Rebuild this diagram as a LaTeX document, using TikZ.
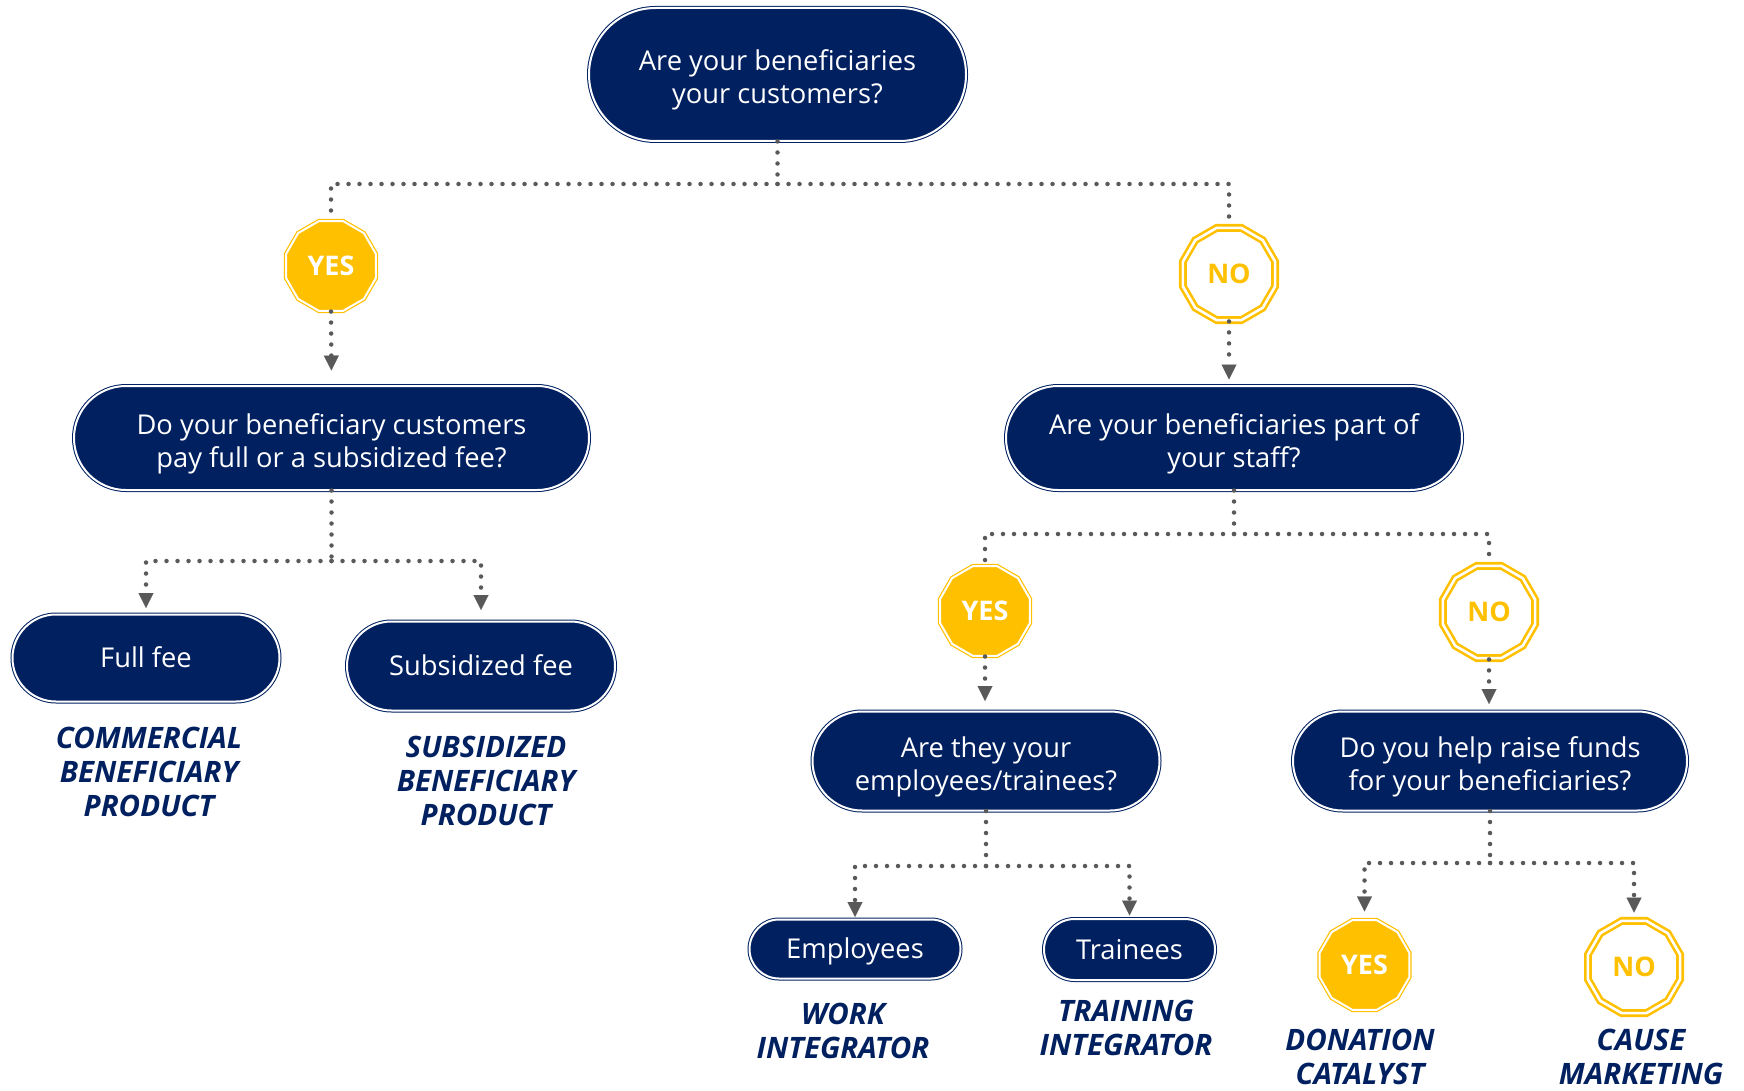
\documentclass[tikz,border=0pt]{standalone}
\usepackage{fontspec}
\setmainfont{Open Sans}
\usetikzlibrary{shapes.misc,shapes.geometric,arrows.meta}
\definecolor{navy}{HTML}{002060}
\definecolor{gold}{HTML}{FFC000}
\definecolor{dotgray}{HTML}{595959}
\tikzset{
  question/.style={rounded rectangle, fill=navy, draw=navy, line width=1pt,
    double=white, double distance=2pt, text=white, align=center, inner sep=0pt,
    text height=19.5pt, text depth=0pt,
    font=\fontsize{27.3}{33}\selectfont},
  twolines/.style={text height=59pt},
  badge/.style={regular polygon, regular polygon sides=12, inner sep=0pt,
    text height=19.3pt, text depth=0pt,
    font=\fontsize{27}{27}\selectfont\bfseries},
  yesbadge/.style={badge, minimum size=93pt, fill=gold, draw=gold,
    line width=1.2pt, double=white, double distance=2pt, text=white},
  nobadge/.style={badge, minimum size=95.5pt, fill=white, draw=gold,
    line width=2.6pt, double=white, double distance=2.6pt, text=gold},
  outcome/.style={text=navy, align=center, inner sep=0pt,
    font=\fontsize{29.5}{34}\selectfont\bfseries\itshape},
  conn/.style={draw=dotgray, line width=4.5pt, line cap=round,
    dash pattern=on 0pt off 11pt},
  arrowed/.style={conn, -{Triangle[width=15pt,length=15pt,line width=0.1pt]}},
}
\begin{document}
\begin{tikzpicture}[x=1pt,y=-1pt]
\useasboundingbox (0,0) rectangle (1744,1091);

% question boxes
\node[question, twolines, minimum width=377pt, minimum height=133pt] (top) at (777.5,74.5)
  {Are your beneficiaries\\your customers?};
\node[question, twolines, minimum width=515pt, minimum height=104pt] (fee) at (331.5,438)
  {Do your beneficiary customers\\pay full or a subsidized fee?};
\node[question, twolines, minimum width=456pt, minimum height=104pt] (staff) at (1234,438)
  {Are your beneficiaries part of\\your staff?};
\node[question, minimum width=267pt, minimum height=87pt] (full) at (146,658) {Full fee};
\node[question, minimum width=268pt, minimum height=89pt] (subs) at (481,666) {Subsidized fee};
\node[question, twolines, minimum width=347pt, minimum height=99pt] (emptr) at (986,761)
  {Are they your\\employees/trainees?};
\node[question, twolines, minimum width=394pt, minimum height=99pt] (funds) at (1490,761)
  {Do you help raise funds\\for your beneficiaries?};
\node[question, minimum width=211pt, minimum height=59pt] (empl) at (855,949) {Employees};
\node[question, minimum width=171pt, minimum height=61pt] (train) at (1129.5,949.5) {Trainees};

% yes / no badges
\node[yesbadge] (yes1) at (331,266) {YES};
\node[nobadge]  (no1)  at (1229,274) {NO};
\node[yesbadge] (yes2) at (985,611) {YES};
\node[nobadge]  (no2)  at (1489,612) {NO};
\node[yesbadge] (yes3) at (1364.5,965) {YES};
\node[nobadge]  (no3)  at (1634,967) {NO};

% outcomes
\node[outcome] (o1) at (149,772) {COMMERCIAL\\BENEFICIARY\\PRODUCT};
\node[outcome] (o2) at (486,781) {SUBSIDIZED\\BENEFICIARY\\PRODUCT};
\node[outcome] (o3) at (843,1031) {WORK\\INTEGRATOR};
\node[outcome] (o4) at (1126,1028) {TRAINING\\INTEGRATOR};
\node[outcome] (o5) at (1360,1057) {DONATION\\CATALYST};
\node[outcome] (o6) at (1641,1057) {CAUSE\\MARKETING};

% junctions
\coordinate (j1) at (777.5,184);
\coordinate (j2) at (331.5,561);
\coordinate (j3) at (1234,534);
\coordinate (j4) at (986,866);
\coordinate (j5) at (1490,863);

% connectors
\draw[conn] (top.south) -- (j1);
\draw[conn] (j1) -| (yes1.north);
\draw[conn] (j1) -| (no1.north);
\draw[arrowed, shorten >=15pt] (yes1.south) -- (fee.north);
\draw[arrowed, shorten >=6pt] (no1.south) -- (no1.south |- staff.north);

\draw[conn] (fee.south) -- (j2);
\draw[arrowed, shorten >=6pt] (j2) -| (full.north);
\draw[arrowed, shorten >=11pt] (j2) -| (subs.north);

\draw[conn] (staff.south) -- (j3);
\draw[conn] (j3) -| (yes2.north);
\draw[conn] (j3) -| (no2.north);
\draw[arrowed, shorten >=10pt] (yes2.south) -- (yes2.south |- emptr.north);
\draw[arrowed, shorten >=7pt] (no2.south) -- (no2.south |- funds.north);

\draw[conn] (emptr.south) -- (j4);
\draw[arrowed, shorten >=2pt] (j4) -| (empl.north);
\draw[arrowed, shorten >=3pt] (j4) -| (train.north);

\draw[conn] (funds.south) -- (j5);
\draw[arrowed, shorten >=8pt] (j5) -| (yes3.north);
\draw[arrowed, shorten >=7pt] (j5) -| (no3.north);
\end{tikzpicture}
\end{document}
